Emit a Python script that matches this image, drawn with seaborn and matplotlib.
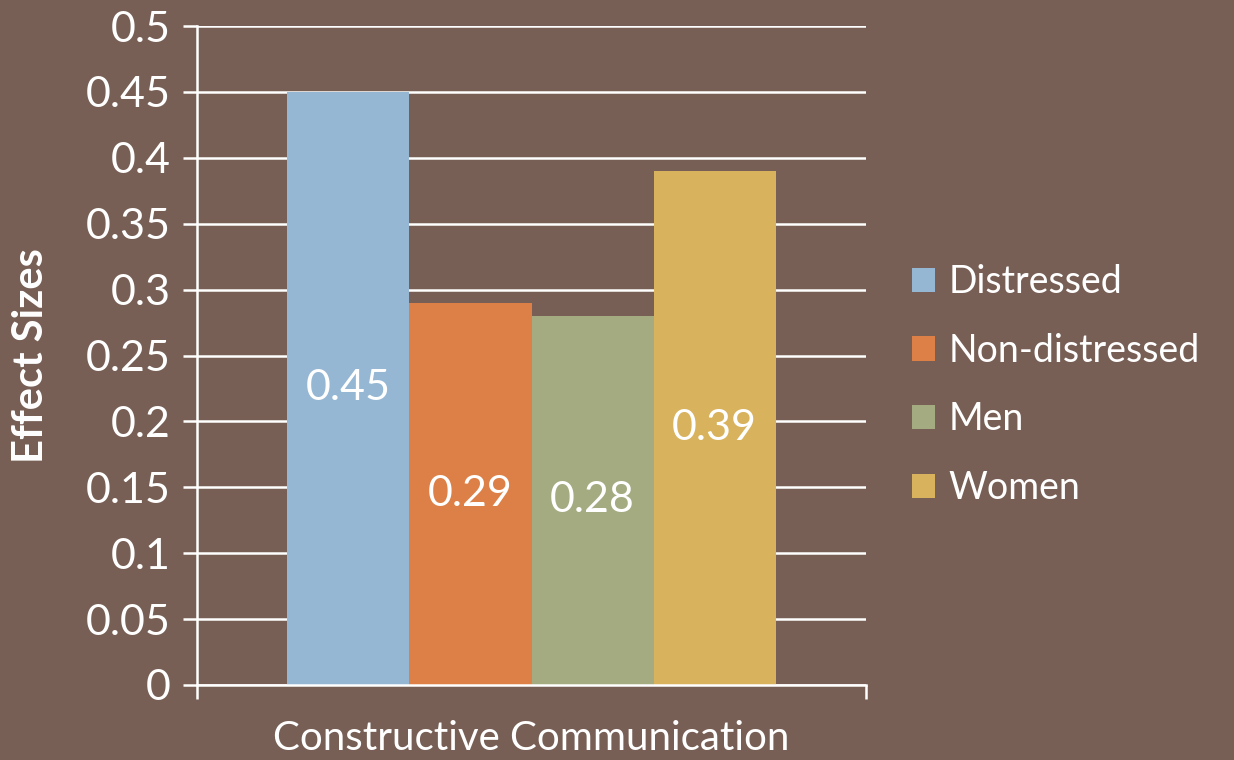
import matplotlib
matplotlib.use("Agg")
import matplotlib.pyplot as plt
import seaborn as sns
import pandas as pd

# Effect sizes for constructive communication by group
category = ["Constructive Communication"]
groups = ["Distressed", "Non-distressed", "Men", "Women"]
values = [0.45, 0.29, 0.28, 0.39]
colors = ["#95B7D3", "#DD8047", "#A5AB81", "#D8B25C"]
yticks = [0, 0.05, 0.1, 0.15, 0.2, 0.25, 0.3, 0.35, 0.4, 0.45, 0.5]
ytick_labels = ["0", "0.05", "0.1", "0.15", "0.2", "0.25", "0.3", "0.35", "0.4", "0.45", "0.5"]

bg = "#775F55"
sns.set_theme(style="white")
plt.rcParams["font.family"] = ["Lato", "DejaVu Sans"]

df = pd.DataFrame({
    "category": category * len(groups),
    "group": groups,
    "value": values,
})

fig = plt.figure(figsize=(12.34, 7.60), dpi=100, facecolor=bg)
ax = fig.add_axes([197 / 1234, 1 - 685 / 760, (866 - 197) / 1234, (685 - 26) / 760])
ax.set_facecolor(bg)

sns.barplot(data=df, x="category", y="value", hue="group", hue_order=groups,
            palette=colors, width=0.73, saturation=1, linewidth=0, ax=ax, legend=True)

ax.set_xlim(-0.5, 0.5)
ax.set_ylim(0, 0.5)
ax.set_yticks(yticks)
ax.set_yticklabels(ytick_labels)
ax.yaxis.grid(True, color="white", linewidth=1.8)
ax.set_axisbelow(True)

for s in ["top", "right"]:
    ax.spines[s].set_visible(False)
for s in ["left", "bottom"]:
    ax.spines[s].set_color("white")
    ax.spines[s].set_linewidth(1.8)

ax.tick_params(axis="y", colors="white", labelsize=31, length=10, width=1.8,
               direction="out", left=True, pad=9)
ax.tick_params(axis="x", colors="white", labelsize=29, length=0, pad=25)
ax.set_xticks([-0.5, 0.5], minor=True)
ax.tick_params(axis="x", which="minor", length=10, width=1.8, color="white", bottom=True)

ax.set_xlabel("")
ax.set_ylabel("Effect Sizes", color="white", fontsize=30, fontweight="bold")
ax.yaxis.set_label_coords(-0.22, 0.5)

# value labels at bar centers
for container in ax.containers:
    for bar in container:
        h = bar.get_height()
        ax.text(bar.get_x() + bar.get_width() / 2, h / 2, f"{h:.2f}",
                ha="center", va="center", color="white", fontsize=31)

leg = ax.legend(loc="center left", bbox_to_anchor=(1.018, 0.455), frameon=False,
                fontsize=27, labelcolor="white", handlelength=0.62, handleheight=0.62,
                handletextpad=0.35, labelspacing=0.87)
for h in leg.legend_handles:
    h.set_linewidth(0)

fig.savefig("out.png", dpi=100, facecolor=bg)
